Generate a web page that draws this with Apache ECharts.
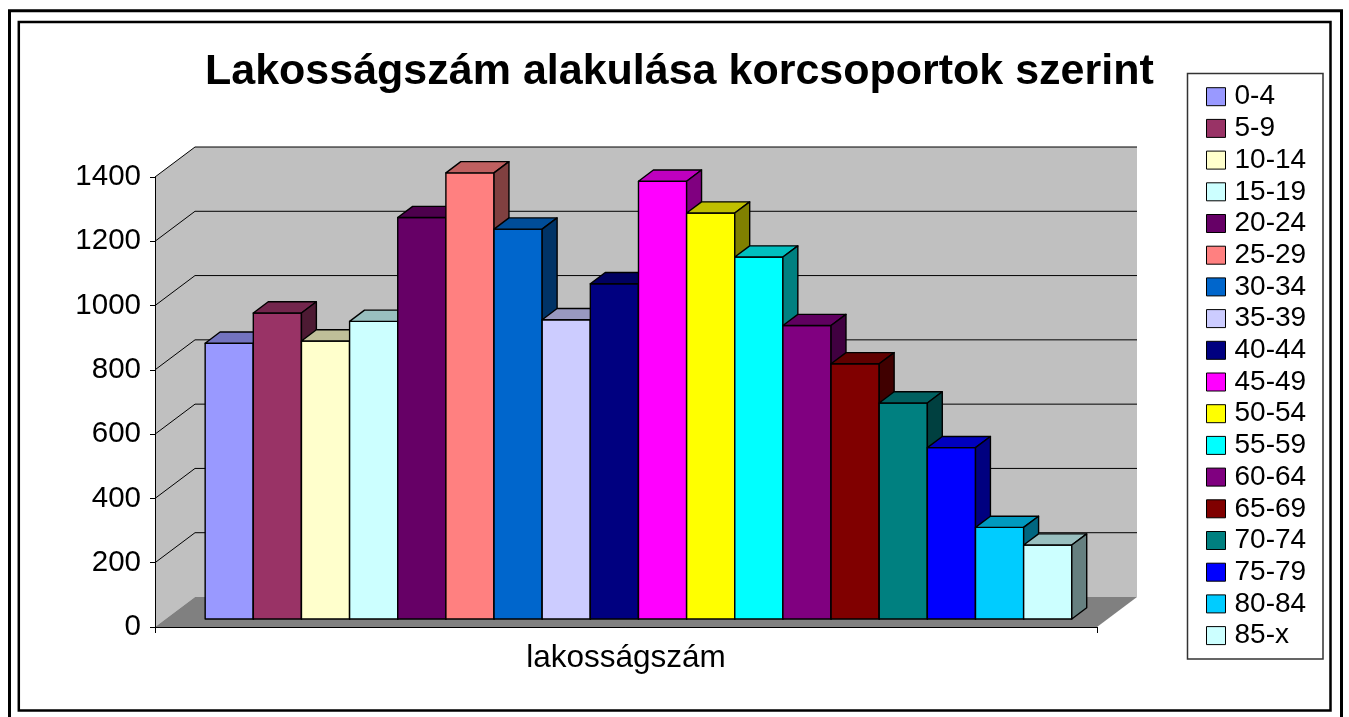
<!DOCTYPE html>
<html><head><meta charset="utf-8">
<script src="https://cdn.jsdelivr.net/npm/echarts@6/dist/echarts.min.js"></script>
<style>html,body{margin:0;padding:0;background:#fff}#c{width:1349px;height:717px}</style>
</head><body><div id="c"></div>
<script>
const titleText = 'Lakosságszám alakulása korcsoportok szerint';
const categoryLabels = ['lakosságszám'];
const ageGroups = ['0-4','5-9','10-14','15-19','20-24','25-29','30-34','35-39','40-44','45-49','50-54','55-59','60-64','65-69','70-74','75-79','80-84','85-x'];
const populations = [858, 952, 865, 926, 1249, 1388, 1213, 931, 1043, 1362, 1263, 1126, 913, 794, 672, 533, 285, 230];
const barColors = ['#9999FF','#993366','#FFFFCC','#CCFFFF','#660066','#FF8080','#0066CC','#CCCCFF','#000080','#FF00FF','#FFFF00','#00FFFF','#800080','#800000','#008080','#0000FF','#00CCFF','#CCFFFF'];
const yTicks = [0, 200, 400, 600, 800, 1000, 1200, 1400];

const FONT = 'Liberation Sans, Arial, sans-serif';
const DEPTH_X = 40, DEPTH_Y = -30;   // wall depth in px
const F1 = 0.267, F2 = 0.64;        // bar depth range (fraction of wall depth)
const GROUP_FRAC = 0.92, SHIFT = 1.8;

function shade(hex, k) {
  const n = parseInt(hex.slice(1), 16);
  const r = Math.round(((n >> 16) & 255) * k), g = Math.round(((n >> 8) & 255) * k), b = Math.round((n & 255) * k);
  return 'rgb(' + r + ',' + g + ',' + b + ')';
}

function wallRenderer(params, api) {
  const c = api.coord([0, 0]);
  const band = api.size([1, 0])[0];
  const L = c[0] - band / 2, R = c[0] + band / 2;
  const y0 = c[1];
  const yTop = api.coord([0, yTicks[yTicks.length - 1]])[1];
  const children = [
    {type: 'polygon', shape: {points: [[L, y0], [L, yTop], [L + DEPTH_X, yTop + DEPTH_Y], [L + DEPTH_X, y0 + DEPTH_Y]]}, style: {fill: '#C0C0C0'}},
    {type: 'rect', shape: {x: L + DEPTH_X, y: yTop + DEPTH_Y, width: R - L, height: y0 - yTop}, style: {fill: '#C0C0C0'}},
    {type: 'polygon', shape: {points: [[L, y0], [R, y0], [R + DEPTH_X, y0 + DEPTH_Y], [L + DEPTH_X, y0 + DEPTH_Y]]}, style: {fill: '#808080'}}
  ];
  yTicks.forEach(function (t) {
    if (t === 0) return;
    const y = api.coord([0, t])[1];
    children.push({type: 'line', shape: {x1: L, y1: y, x2: L + DEPTH_X, y2: y + DEPTH_Y}, style: {stroke: '#000', lineWidth: 1}});
    children.push({type: 'line', shape: {x1: L + DEPTH_X, y1: y + DEPTH_Y, x2: R + DEPTH_X, y2: y + DEPTH_Y}, style: {stroke: '#000', lineWidth: 1}});
  });
  return {type: 'group', children: children};
}

function barRenderer(i) {
  return function (params, api) {
    const base = api.coord([api.value(0), 0]);
    const topP = api.coord([api.value(0), api.value(1)]);
    const band = api.size([1, 0])[0];
    const groupW = band * GROUP_FRAC;
    const w = groupW / ageGroups.length;
    const dx = DEPTH_X * (F2 - F1), dy = DEPTH_Y * (F2 - F1);
    const xl = base[0] - groupW / 2 + i * w + DEPTH_X * F1 + SHIFT;
    const xr = xl + w;
    const yb = base[1] + DEPTH_Y * F1;
    const yt = topP[1] + DEPTH_Y * F1;
    const c = barColors[i];
    const st = {stroke: '#000', lineWidth: 1.4, lineJoin: 'round'};
    return {type: 'group', children: [
      {type: 'polygon', shape: {points: [[xl, yb], [xl, yt], [xr, yt], [xr, yb]]}, style: Object.assign({fill: c}, st)},
      {type: 'polygon', shape: {points: [[xl, yt], [xr, yt], [xr + dx, yt + dy], [xl + dx, yt + dy]]}, style: Object.assign({fill: shade(c, 0.75)}, st)},
      {type: 'polygon', shape: {points: [[xr, yt], [xr + dx, yt + dy], [xr + dx, yb + dy], [xr, yb]]}, style: Object.assign({fill: shade(c, 0.5)}, st)}
    ]};
  };
}

const series = [{
  type: 'custom', name: '__walls', data: [[0, 0]], renderItem: wallRenderer, z: 1, silent: true, clip: false
}].concat(ageGroups.map(function (name, i) {
  return {
    type: 'custom', name: name, data: [[0, populations[i]]], encode: {x: 0, y: 1},
    renderItem: barRenderer(i), z: 2, clip: false, itemStyle: {color: barColors[i]}
  };
}));

const chart = echarts.init(document.getElementById('c'), null, {renderer: 'canvas'});
chart.setOption({
  animation: false,
  backgroundColor: '#fff',
  title: {
    text: titleText, left: 205, top: 51, padding: 0,
    textStyle: {fontSize: 43, fontWeight: 'bold', color: '#000', fontFamily: FONT, lineHeight: 43}
  },
  grid: {left: 155, right: 252, top: 177, bottom: 90, containLabel: false},
  xAxis: {
    type: 'category', data: categoryLabels, z: 10,
    axisLine: {show: true, lineStyle: {color: '#000', width: 1}},
    axisTick: {show: true, length: 6, lineStyle: {color: '#000'}},
    axisLabel: {fontSize: 31.5, color: '#000', fontFamily: FONT, margin: 15},
    splitLine: {show: false}
  },
  yAxis: {
    type: 'value', min: 0, max: 1400, interval: 200, z: 10,
    axisLine: {show: true, lineStyle: {color: '#000', width: 1}},
    axisTick: {show: true, length: 5, lineStyle: {color: '#000'}},
    axisLabel: {fontSize: 29.5, color: '#000', fontFamily: FONT, margin: 14, formatter: function (v) { return String(v); }},
    splitLine: {show: false}
  },
  legend: {
    orient: 'vertical', left: 1206, top: 82.7, padding: 0,
    itemWidth: 19, itemHeight: 18, itemGap: 3.7, icon: 'rect', selectedMode: false,
    data: ageGroups.map(function (n, i) { return {name: n, itemStyle: {color: barColors[i], borderColor: '#000', borderWidth: 1}}; }),
    textStyle: {fontSize: 28, lineHeight: 28, color: '#000', fontFamily: FONT, padding: [0, 0, 0, 4]}
  },
  graphic: [
    {type: 'rect', shape: {x: 9.5, y: 10.8, width: 1332, height: 720}, style: {fill: 'none', stroke: '#000', lineWidth: 3}, z: 100, silent: true},
    {type: 'rect', shape: {x: 18.8, y: 22, width: 1311.7, height: 688.5}, style: {fill: 'none', stroke: '#000', lineWidth: 2.5}, z: 100, silent: true},
    {type: 'rect', shape: {x: 1187.5, y: 73.5, width: 135.5, height: 585.5}, style: {fill: 'none', stroke: '#333', lineWidth: 1.5}, z: 100, silent: true}
  ],
  series: series
});
</script>
</body></html>
